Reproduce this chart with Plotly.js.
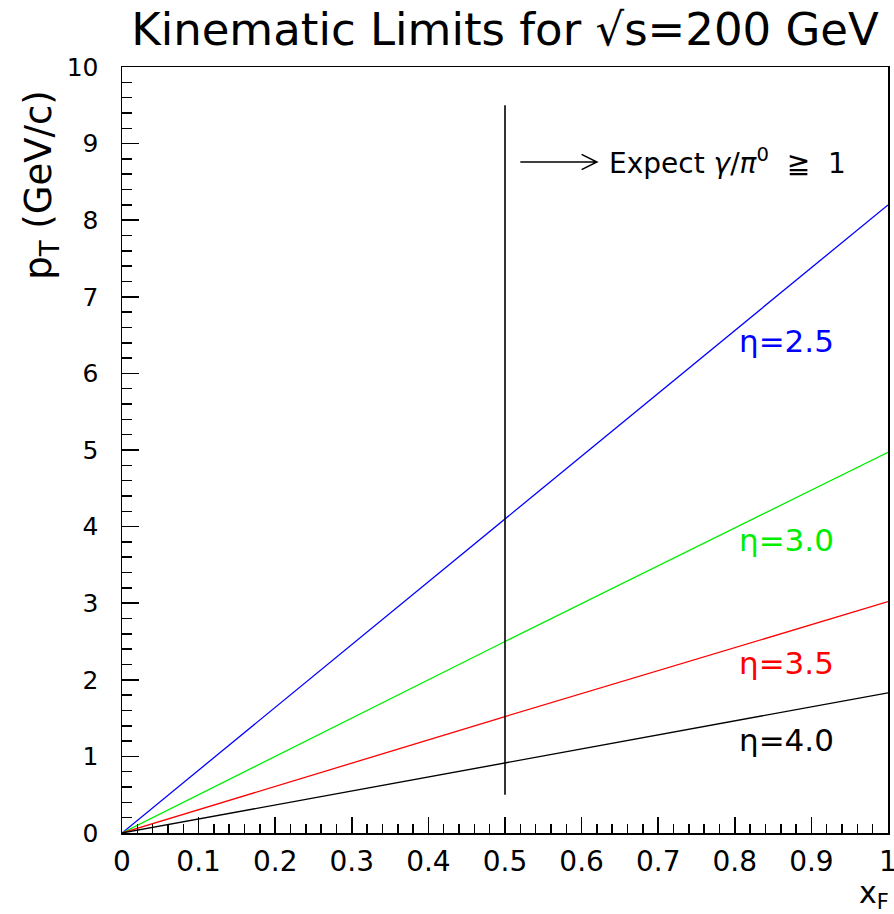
<!DOCTYPE html>
<html>
<head>
<meta charset="utf-8">
<script src="https://cdn.plot.ly/plotly-3.0.1.min.js"></script>
<style>
html,body{margin:0;padding:0;background:#fff;}
#chart{width:894px;height:914px;}
</style>
</head>
<body>
<div id="chart"></div>
<script>
// x_F sample points (start, middle, end of each line)
var xF = [0, 0.5, 1];
// p_T values for each pseudorapidity
var pt_eta25 = [0, 4.1, 8.2];
var pt_eta30 = [0, 2.5, 4.97];
var pt_eta35 = [0, 1.52, 3.02];
var pt_eta40 = [0, 0.92, 1.83];
// vertical marker at x_F = 0.5
var markX = [0.5, 0.5];
var markY = [0.5, 9.5];
// curve labels
var labelText = ["η=2.5", "η=3.0", "η=3.5", "η=4.0"];
var labelY = [6.42, 3.82, 2.22, 1.22];
var labelColor = ["#0000ff", "#00ee00", "#ff0000", "#000000"];
// tick labels
var xTickVals = [0, 0.1, 0.2, 0.3, 0.4, 0.5, 0.6, 0.7, 0.8, 0.9, 1];
var xTickText = ["0", "0.1", "0.2", "0.3", "0.4", "0.5", "0.6", "0.7", "0.8", "0.9", "1"];

var FONT = "DejaVu Sans, Liberation Sans, sans-serif";

var traces = [
  {x: xF, y: pt_eta25, mode: "lines", line: {color: "#0000ff", width: 1.3}},
  {x: xF, y: pt_eta30, mode: "lines", line: {color: "#00ee00", width: 1.3}},
  {x: xF, y: pt_eta35, mode: "lines", line: {color: "#ff0000", width: 1.3}},
  {x: xF, y: pt_eta40, mode: "lines", line: {color: "#000000", width: 1.3}},
  {x: markX, y: markY, mode: "lines", line: {color: "#000000", width: 1.6}}
];

var annotations = [];
for (var i = 0; i < labelText.length; i++) {
  annotations.push({x: 0.803, y: labelY[i], xref: "x", yref: "y", text: labelText[i],
    showarrow: false, xanchor: "left", yanchor: "middle",
    font: {family: FONT, size: 31, color: labelColor[i]}});
}
annotations.push({x: 0.633, y: 8.76, xref: "x", yref: "y",
  text: "Expect <i>γ</i>/<i>π</i><sup>0</sup>  ≧  1", showarrow: false,
  xanchor: "left", yanchor: "middle", font: {family: FONT, size: 28, color: "#000"}});
annotations.push({x: -0.106, y: 0.846, xref: "paper", yref: "paper",
  text: "p<sub>T</sub> (GeV/c)", showarrow: false, textangle: -90,
  xanchor: "center", yanchor: "middle", font: {family: FONT, size: 37, color: "#000"}});
annotations.push({x: 0.982, y: -0.08, xref: "paper", yref: "paper",
  text: "x<sub>F</sub>", showarrow: false,
  xanchor: "center", yanchor: "middle", font: {family: FONT, size: 30, color: "#000"}});

var layout = {
  width: 894, height: 914,
  margin: {l: 122, r: 6, t: 67, b: 81},
  paper_bgcolor: "#fff", plot_bgcolor: "#fff",
  showlegend: false,
  title: {text: "Kinematic Limits for √s=200 GeV", x: 0.5, xanchor: "center",
    y: 0.968, yanchor: "middle", xref: "paper", yref: "container",
    font: {family: FONT, size: 45, color: "#000"}},
  xaxis: {range: [0, 1], showgrid: false, zeroline: false, showline: true, mirror: true,
    linecolor: "#000", linewidth: 1.5, ticks: "inside", ticklen: 16, tickwidth: 1.5,
    tickcolor: "#000", tickmode: "array", tickvals: xTickVals, ticktext: xTickText,
    ticklabeloverflow: "allow",
    minor: {dtick: 0.02, tick0: 0, ticks: "inside", ticklen: 9, tickwidth: 1.5, tickcolor: "#000", showgrid: false},
    tickfont: {family: FONT, size: 28, color: "#000"}, ticklabelstandoff: 3},
  yaxis: {range: [0, 10], showgrid: false, zeroline: false, showline: true, mirror: true,
    linecolor: "#000", linewidth: 1.5, ticks: "inside", ticklen: 17, tickwidth: 1.5,
    tickcolor: "#000", dtick: 1, tick0: 0, ticklabeloverflow: "allow",
    minor: {dtick: 0.2, tick0: 0, ticks: "inside", ticklen: 10, tickwidth: 1.5, tickcolor: "#000", showgrid: false},
    tickfont: {family: FONT, size: 25, color: "#000"}, ticklabelstandoff: 17},
  shapes: [{type: "path", xref: "x", yref: "y",
    path: "M0.52,8.76 L0.62,8.76 M0.600,8.86 L0.62,8.76 L0.600,8.66",
    line: {color: "#000", width: 1.5}}],
  annotations: annotations
};

Plotly.newPlot("chart", traces, layout, {displayModeBar: false, staticPlot: true});
</script>
</body>
</html>
